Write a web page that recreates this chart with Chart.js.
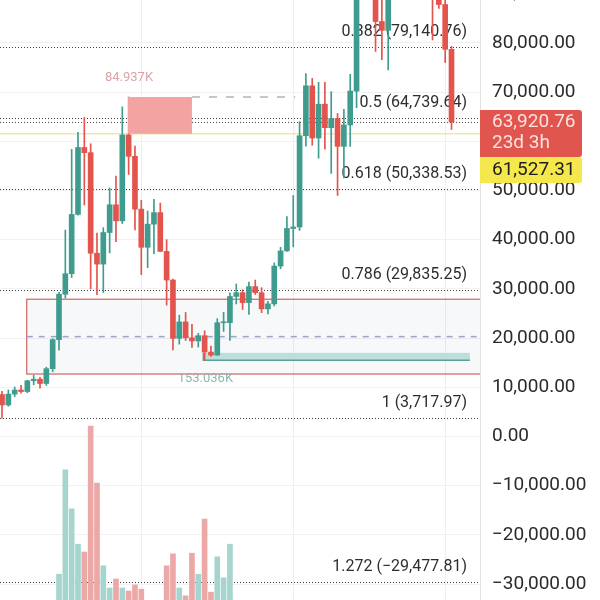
<!DOCTYPE html>
<html>
<head>
<meta charset="utf-8">
<script src="https://cdn.jsdelivr.net/npm/chart.js@4.4.1/dist/chart.umd.min.js"></script>
<style>
  html, body { margin: 0; padding: 0; background: #fff; }
  #wrap { width: 600px; height: 600px; }
</style>
</head>
<body>
<div id="wrap"><canvas id="btc_canvas" width="600" height="600"></canvas></div>
<script>
// monthly candles, Mar 2020 .. Feb 2026
const months = [];
for (let k = 0; k < 72; k++) {
    const d = new Date(2020, 2 + k, 1);
    months.push(d.toLocaleString('en-US', { month: 'short' }) + ' ' + d.getFullYear());
}

const opens = [8523, 6410, 8620, 9448, 9138, 11335, 11649, 10776, 13791, 19695,
    28923, 33092, 45135, 58740, 57694, 37253, 35045, 41461, 47100, 43824, 61299, 56950,
    46216, 38466, 43160, 45510, 37630, 31801, 19942, 23293, 20050, 19422, 20491, 17164,
    16542, 23125, 23141, 28465, 29233, 27210, 30472, 29232, 25940, 26962, 34639, 37723,
    42283, 42580, 61130, 71280, 60672, 67540, 62772, 64628, 58974, 63327, 70215, 96407,
    93576, 102429, 84349, 82548, 94172, 104591, 107135, 115764, 108246, 114048, 109608, 90400,
    87800, 78700];
const highs = [9188, 9468, 10067, 10380, 11444, 12468, 12050, 14100, 19863, 29300,
    41950, 58352, 61844, 64854, 59500, 41330, 42448, 50500, 52920, 67000, 69000, 59053,
    47990, 45821, 48189, 47444, 40023, 31982, 24668, 25211, 22799, 20988, 21480, 18387,
    23960, 25250, 29184, 31000, 29820, 31389, 31804, 30244, 27483, 35280, 38450, 44700,
    48969, 64000, 73777, 72797, 71979, 71980, 70079, 65660, 66498, 73620, 99588, 108353,
    109588, 102500, 95000, 95758, 111980, 110530, 123218, 124474, 117900, 126200, 110600, 94600,
    97900, 79300];
const lows = [3717.97, 6150, 8117, 8833, 8893, 10518, 9825, 10374, 13195, 17572,
    28130, 32296, 45000, 47044, 30000, 28805, 29278, 37332, 39600, 43283, 53256, 42000,
    32917, 34322, 37155, 37578, 26700, 17622, 18781, 19520, 18125, 18190, 15476, 16256,
    16500, 21351, 19549, 26942, 25811, 24800, 28861, 25166, 24901, 26538, 34097, 37615,
    38555, 41884, 59005, 59191, 56552, 58402, 53485, 49000, 52550, 58946, 66835, 90500,
    89256, 78258, 76606, 74508, 93346, 98200, 105271, 107350, 107255, 102000, 80600, 87000,
    76000, 62400];
const closes = [6410, 8620, 9448, 9138, 11335, 11649, 10776, 13791, 19695, 28923,
    33092, 45135, 58740, 57694, 37253, 35045, 41461, 47100, 43824, 61299, 56950, 46216,
    38466, 43160, 45510, 37630, 31801, 19942, 23293, 20050, 19422, 20491, 17164, 16542,
    23125, 23141, 28465, 29233, 27210, 30472, 29232, 25940, 26962, 34639, 37723, 42283,
    42580, 61130, 71280, 60672, 67540, 62772, 64628, 58974, 63327, 70215, 96407, 93576,
    102429, 84349, 82548, 94172, 104591, 107135, 115764, 108246, 114048, 109608, 90400, 87800,
    78700, 63920.76];
// volume, thousand BTC
const volumes = [90, 62, 58, 42, 50, 62, 52, 56, 92,
    143, 317, 252, 193, 180, 390, 295, 157, 120, 135, 120, 115, 125, 118,
    92, 88, 82,
    157, 177, 120, 107, 178, 143, 235, 113, 172, 137, 193,
    95, 70, 88, 60, 75, 55, 80, 92, 98, 96, 90, 95, 70, 62, 45, 55, 70, 50, 48,
    90, 65, 60, 70, 68, 60, 50, 45, 52, 55, 45, 60, 68, 50, 62, 40];

const priceTicks = [-30000, -20000, -10000, 0, 10000, 20000, 30000, 40000, 50000, 60000, 70000, 80000, 90000];
const fibRatios = [0.382, 0.5, 0.618, 0.786, 1, 1.272];
const fibLevels = [79140.76, 64739.64, 50338.53, 29835.25, 3717.97, -29477.81];
const lastPrice = 63920.76;
const timeLeft = '23d 3h';
const markPrice = 61527.31;
const gridMonths = ['Jan 2022', 'Jan 2024', 'Jan 2026'];

// drawn zones (x in candle index, y in price)
const rangeZone = { start: 3.9, low: 12700, high: 27900 };
const supplyZone = { start: 19.9, end: 30, low: 61527.31, high: 69000, lineEnd: 46.3, label: '84.937K' };
const demandZone = { start: 31.8, end: 73.9, low: 15476, high: 17000, label: '153.036K' };

const UP = '#3f9c8e', DOWN = '#e2544c';
const VOL_UP = '#a6d4ce', VOL_DOWN = '#eca8a7';

const fmt = v => (v < 0 ? '\u2212' : '') +
    Math.abs(v).toLocaleString('en-US', { minimumFractionDigits: 2, maximumFractionDigits: 2 });

const isUp = i => closes[i] >= opens[i];

const overlays = {
    id: 'overlays',
    beforeDatasetsDraw(chart) {
        const { ctx, chartArea: a, scales: { x, y } } = chart;
        ctx.save();
        ctx.beginPath();
        ctx.rect(a.left, a.top, a.width, a.height);
        ctx.clip();

        // range box
        const rx = x.getPixelForValue(rangeZone.start);
        const rt = y.getPixelForValue(rangeZone.high);
        const rb = y.getPixelForValue(rangeZone.low);
        ctx.fillStyle = 'rgba(110,130,175,0.06)';
        ctx.fillRect(rx, rt, a.right - rx, rb - rt);
        ctx.strokeStyle = '#d56f6b';
        ctx.lineWidth = 1.3;
        ctx.strokeRect(rx, rt, a.right - rx + 5, rb - rt);
        const rm = y.getPixelForValue((rangeZone.high + rangeZone.low) / 2);
        ctx.setLineDash([6, 6]);
        ctx.strokeStyle = '#9ba3c6';
        ctx.lineWidth = 1.5;
        ctx.beginPath();
        ctx.moveTo(rx, rm);
        ctx.lineTo(a.right, rm);
        ctx.stroke();
        ctx.setLineDash([]);

        // demand box
        const dx1 = x.getPixelForValue(demandZone.start);
        const dx2 = x.getPixelForValue(demandZone.end);
        const dt = y.getPixelForValue(demandZone.high);
        const db = y.getPixelForValue(demandZone.low);
        ctx.fillStyle = '#bcdfdc';
        ctx.fillRect(dx1, dt, dx2 - dx1, db - dt);
        ctx.strokeStyle = '#5f9d97';
        ctx.lineWidth = 1.5;
        ctx.beginPath();
        ctx.moveTo(dx1, dt);
        ctx.lineTo(dx1, db);
        ctx.lineTo(dx2, db);
        ctx.stroke();
        ctx.font = '13px Roboto';
        ctx.textAlign = 'center';
        ctx.textBaseline = 'middle';
        ctx.fillStyle = '#87b9b4';
        ctx.fillText(demandZone.label, dx1 + 2, db + 18);

        // supply extension line
        const sx2 = x.getPixelForValue(supplyZone.end);
        const st = y.getPixelForValue(supplyZone.high);
        ctx.setLineDash([8, 9]);
        ctx.strokeStyle = '#b4b4b4';
        ctx.lineWidth = 1.5;
        ctx.beginPath();
        ctx.moveTo(sx2, st);
        ctx.lineTo(x.getPixelForValue(supplyZone.lineEnd), st);
        ctx.stroke();
        ctx.setLineDash([]);
        ctx.fillStyle = '#d9a3a9';
        ctx.fillText(supplyZone.label, x.getPixelForValue(supplyZone.start) + 1, st - 19);

        // mark price line
        const ym = y.getPixelForValue(markPrice);
        ctx.strokeStyle = '#efe9a6';
        ctx.lineWidth = 1.5;
        ctx.beginPath();
        ctx.moveTo(a.left, ym);
        ctx.lineTo(a.right, ym);
        ctx.stroke();

        // fib levels
        ctx.setLineDash([1, 2]);
        ctx.strokeStyle = '#3a3a3a';
        ctx.lineWidth = 1.2;
        fibLevels.forEach(v => {
            const yy = Math.round(y.getPixelForValue(v)) + 0.5;
            ctx.beginPath();
            ctx.moveTo(a.left, yy);
            ctx.lineTo(a.right, yy);
            ctx.stroke();
        });
        // last price line
        const yl = Math.round(y.getPixelForValue(lastPrice)) + 0.5;
        ctx.strokeStyle = '#5b4848';
        ctx.beginPath();
        ctx.moveTo(a.left, yl);
        ctx.lineTo(a.right, yl);
        ctx.stroke();
        ctx.setLineDash([]);

        ctx.font = '16px Roboto';
        ctx.textAlign = 'right';
        ctx.fillStyle = '#2e2e2e';
        fibLevels.forEach((v, k) => {
            ctx.fillText(fibRatios[k] + ' (' + fmt(v) + ')', a.right - 13, y.getPixelForValue(v) - 15);
        });
        ctx.restore();
    },
    afterDatasetsDraw(chart) {
        const { ctx, scales: { x, y } } = chart;
        const sx1 = x.getPixelForValue(supplyZone.start);
        const sx2 = x.getPixelForValue(supplyZone.end);
        const st = y.getPixelForValue(supplyZone.high);
        const sb = y.getPixelForValue(supplyZone.low);
        ctx.save();
        ctx.fillStyle = '#f3a3a2';
        ctx.fillRect(sx1, st, sx2 - sx1, sb - st);
        ctx.restore();
    },
    afterDraw(chart) {
        const { ctx, chartArea: a, scales: { y } } = chart;
        const yl = y.getPixelForValue(lastPrice);
        ctx.save();
        ctx.fillStyle = '#e0564e';
        ctx.beginPath();
        ctx.roundRect(a.right, yl - 12, 102, 47, [0, 3, 3, 0]);
        ctx.fill();
        ctx.font = '19px Roboto';
        ctx.textAlign = 'left';
        ctx.textBaseline = 'middle';
        ctx.fillStyle = '#fbe2e0';
        ctx.fillText(fmt(lastPrice), a.right + 12, yl);
        ctx.fillText(timeLeft, a.right + 12, yl + 21);
        const yb = yl + 35;
        ctx.fillStyle = '#f5e84c';
        ctx.beginPath();
        ctx.roundRect(a.right, yb, 102, 26, [0, 3, 3, 0]);
        ctx.fill();
        ctx.fillStyle = '#1e1e1e';
        ctx.fillText(fmt(markPrice), a.right + 12, yb + 13);
        ctx.restore();
    }
};

const idx = months.map((m, i) => i);

new Chart(document.getElementById('btc_canvas'), {
    type: 'bar',
    data: {
        datasets: [{
            label: 'Volume',
            yAxisID: 'v',
            data: idx.map(i => ({ x: i, y: volumes[i] })),
            backgroundColor: idx.map(i => isUp(i) ? VOL_UP : VOL_DOWN),
            barThickness: 5,
            grouped: false
        }, {
            label: 'Wicks',
            data: idx.map(i => ({ x: i, y: [lows[i], highs[i]] })),
            backgroundColor: idx.map(i => isUp(i) ? UP : DOWN),
            barThickness: 1,
            grouped: false
        }, {
            label: 'Bodies',
            data: idx.map(i => ({ x: i, y: [opens[i], closes[i]] })),
            backgroundColor: idx.map(i => isUp(i) ? UP : DOWN),
            barThickness: 5,
            minBarLength: 1,
            grouped: false
        }]
    },
    options: {
        responsive: false,
        animation: false,
        layout: { padding: 0 },
        plugins: { legend: { display: false }, tooltip: { enabled: false } },
        scales: {
            x: {
                type: 'linear',
                min: -0.32,
                max: 75.5,
                offset: false,
                grid: { color: '#eeeeee', offset: false, drawTicks: false },
                border: { display: false },
                ticks: { display: false },
                afterBuildTicks: s => { s.ticks = gridMonths.map(m => ({ value: months.indexOf(m) })); },
                afterFit: s => { s.height = 0; s.paddingLeft = 0; s.paddingRight = 0; }
            },
            y: {
                position: 'right',
                min: -33230,
                max: 88720,
                grid: { color: '#f1f1f1', drawTicks: false },
                border: { color: '#e2e2e2' },
                ticks: {
                    padding: 12,
                    color: '#2b2b2b',
                    font: { family: 'Roboto', size: 19 },
                    autoSkip: false,
                    callback: v => fmt(v)
                },
                afterBuildTicks: s => { s.ticks = priceTicks.map(v => ({ value: v })); },
                afterFit: s => { s.width = 120; s.paddingTop = 0; s.paddingBottom = 0; }
            },
            v: {
                display: false,
                min: 100,
                max: 1100
            }
        }
    },
    plugins: [overlays]
});
</script>
</body>
</html>
